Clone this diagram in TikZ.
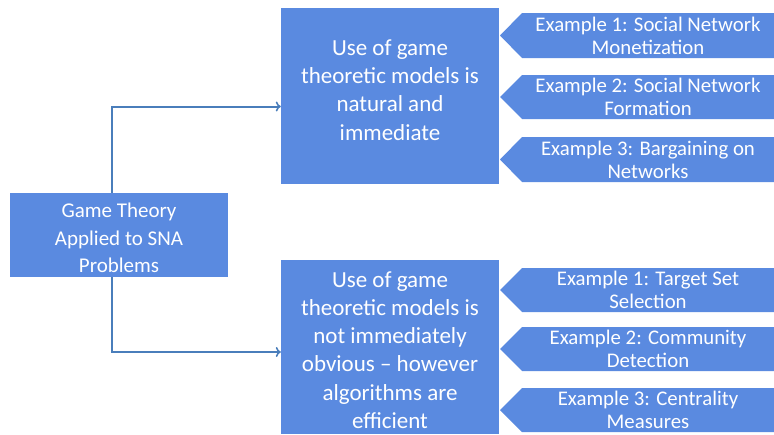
\documentclass[tikz,border=0pt]{standalone}
\usepackage{fontspec}
\setmainfont{Carlito}
\usetikzlibrary{arrows.meta}
\definecolor{boxblue}{RGB}{90,138,224}
\definecolor{linkblue}{RGB}{74,126,187}
\begin{document}
\begin{tikzpicture}[x=1pt,y=-1pt,
  bigbox/.style={fill=boxblue,draw=none,inner sep=0pt},
  bigtext/.style={text=white,align=center,inner sep=0pt,font=\fontsize{23}{28.2}\selectfont},
  chevtext/.style={text=white,align=center,font=\fontsize{20.8}{23}\selectfont},
  link/.style={draw=linkblue,line width=2pt,-{To[length=5pt,width=10pt,line width=1.5pt]}}]
\useasboundingbox (0,0) rectangle (774,434);
% left box
\node[bigbox,minimum width=218,minimum height=84] (root) at (119,235) {};
\node[bigtext,font=\fontsize{21}{27.5}\selectfont] (roottxt) at (119,238) {Game Theory\\Applied to SNA\\Problems};
% middle boxes
\node[bigbox,minimum width=218,minimum height=176] (top) at (390,96) {};
\node[bigtext] (toptxt) at (390,90) {Use of game\\theoretic models is\\natural and\\immediate};
\node[bigbox,minimum width=218,minimum height=174] (bot) at (390,347) {};
\node[bigtext] (bottxt) at (390,350) {Use of game\\theoretic models is\\not immediately\\obvious -- however\\algorithms are\\efficient};
% connectors
\coordinate (ja) at (111.5,106.5);
\coordinate (jb) at (111.5,352);
\draw[link] (root.north -| ja) -- (ja) -- (ja -| top.west);
\draw[link] (root.south -| jb) -- (jb) -- (jb -| bot.west);
% chevrons
\foreach \n/\yt/\yb/\txt in {
  e1/13/58/{Example 1: Social Network\\Monetization},
  e2/75/119/{Example 2: Social Network\\Formation},
  e3/137/182/{Example 3: Bargaining on\\Networks},
  f1/268/312/{Example 1: Target Set\\Selection},
  f2/327/371/{Example 2: Community\\Detection},
  f3/388/432/{Example 3: Centrality\\Measures}}{
  \fill[boxblue] (774,\yt) -- (522,\yt) -- (500,{(\yt+\yb)/2}) -- (522,\yb) -- (774,\yb) -- cycle;
  \node[chevtext] (\n) at (648,{(\yt+\yb)/2}) {\txt};
}
\end{tikzpicture}
\end{document}
